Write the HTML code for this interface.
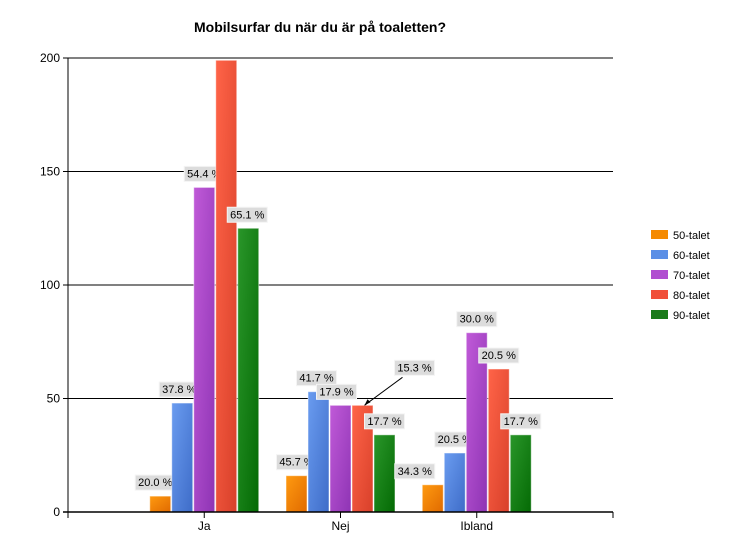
<!DOCTYPE html>
<html><head><meta charset="utf-8"><style>
body{margin:0;background:#fff;}
svg{display:block;font-family:"Liberation Sans",sans-serif;}
</style></head><body>
<svg id="chart" width="746" height="560">
<defs>
<linearGradient id="g0" x1="0" x2="1" y1="0" y2="1"><stop offset="0" stop-color="#ff9a10"/><stop offset="1" stop-color="#e06a00"/></linearGradient>
<linearGradient id="g1" x1="0" x2="1" y1="0" y2="1"><stop offset="0" stop-color="#6a9cf0"/><stop offset="1" stop-color="#3e6cc8"/></linearGradient>
<linearGradient id="g2" x1="0" x2="1" y1="0" y2="1"><stop offset="0" stop-color="#c05ad8"/><stop offset="1" stop-color="#8e34b4"/></linearGradient>
<linearGradient id="g3" x1="0" x2="1" y1="0" y2="1"><stop offset="0" stop-color="#ff6448"/><stop offset="1" stop-color="#d8402a"/></linearGradient>
<linearGradient id="g4" x1="0" x2="1" y1="0" y2="1"><stop offset="0" stop-color="#2a962a"/><stop offset="1" stop-color="#046a04"/></linearGradient>
</defs>
<text x="320" y="32" text-anchor="middle" font-size="14" font-weight="bold">Mobilsurfar du när du är på toaletten?</text>
<g id="grid"></g><g id="bars"></g><g id="axes"></g><g id="legend"></g>
</svg>
<script>
const categories = ["Ja","Nej","Ibland"];
const seriesNames = ["50-talet","60-talet","70-talet","80-talet","90-talet"];
const s50 = [7,16,12];
const s60 = [48,53,26];
const s70 = [143,47,79];
const s80 = [199,47,63];
const s90 = [125,34,34];
const pct50 = ["20.0 %","45.7 %","34.3 %"];
const pct60 = ["37.8 %","41.7 %","20.5 %"];
const pct70 = ["54.4 %","17.9 %","30.0 %"];
const pct80 = ["","15.3 %","20.5 %"];
const pct90 = ["65.1 %","17.7 %","17.7 %"];
const yTicks = [0,50,100,150,200];

const series=[s50,s60,s70,s80,s90], pcts=[pct50,pct60,pct70,pct80,pct90];
const colors=["url(#g0)","url(#g1)","url(#g2)","url(#g3)","url(#g4)"];
const swatch=["#f58a00","#5b8fe6","#b04fd0","#f0503a","#1a7a1a"];
const NS="http://www.w3.org/2000/svg";
const X0=68,X1=613,Y0=512,Y1=58,YMAX=200,NCAT=4;
const band=(X1-X0)/NCAT, bw=22;
const y=v=>Y0-(v/YMAX)*(Y0-Y1);
const cx=i=>X0+band*(i+1);
function mk(t,a,p){const e=document.createElementNS(NS,t);for(const k in a)e.setAttribute(k,a[k]);p.appendChild(e);return e;}
const grid=document.getElementById('grid'),bars=document.getElementById('bars'),axes=document.getElementById('axes'),leg=document.getElementById('legend');
yTicks.forEach(t=>{
  if(t>0){const l=mk('line',{x1:X0,x2:X1,y1:y(t),y2:y(t),stroke:'#000','stroke-width':1},grid);
  
  }
  const tk=mk('line',{x1:X0-5,x2:X0,y1:y(t),y2:y(t),stroke:'#000'},axes);
  
  
  const tx=mk('text',{x:X0-8,y:y(t)+4,'text-anchor':'end','font-size':12},axes);
  
  
  tx.textContent=t;
});
// label offsets (layout only)
const ldx=[[-5,-3,0,0,-1],[0,-2,-4,0,0],[-18,0,0,0,0]];
categories.forEach((c,ci)=>{
  const center=cx(ci)-band/2+band/2; const gc=X0+band*(ci)+band*1.0;
  series.forEach((s,si)=>{
    const bx=gc-2.5*bw+si*bw, top=y(s[ci]);
    const r=mk('rect',{x:bx+0.5,y:top,width:bw-1,height:Y0-top,fill:colors[si],stroke:'rgba(255,255,255,0.5)','stroke-width':1},bars);
    
    
    const txt=pcts[si][ci]; if(!txt) return;
    let lx=bx+bw/2+ldx[ci][si], ly=top-6;
    if(ci===1&&si===3){lx=bx+bw/2+52;ly=top-30;
      const a=mk('line',{x1:lx-12,y1:ly+2,x2:bx+bw/2+2,y2:top,stroke:'#000','stroke-width':1},bars);
      
      
      const h=mk('polygon',{points:`${bx+bw/2+2},${top} ${bx+bw/2+5},${top-6} ${bx+bw/2+8},${top-3}`,fill:'#000'},bars);
      
      }
    const w=40;
    const b=mk('rect',{x:lx-w/2,y:ly-15,width:w,height:15,fill:'#dcdcdc',stroke:'#f4f4f4'},bars);
    
    
    const t=mk('text',{x:lx,y:ly-4,'text-anchor':'middle','font-size':11},bars);
    
    
    t.textContent=txt;
  });
  const tk=mk('line',{x1:gc,x2:gc,y1:Y0,y2:Y0+6,stroke:'#000'},axes);
  
  
  const lb=mk('text',{x:gc,y:Y0+18,'text-anchor':'middle','font-size':12},axes);
  
  
  lb.textContent=c;
});
[X0,X1].forEach(xx=>{const t=mk('line',{x1:xx,x2:xx,y1:Y0,y2:Y0+6,stroke:'#000'},axes);
  
  });
const ya=mk('line',{x1:X0,x2:X0,y1:Y1,y2:Y0,stroke:'#000'},axes);


const xa=mk('line',{x1:X0-5,x2:X1,y1:Y0,y2:Y0,stroke:'#000','stroke-width':1.5},axes);


seriesNames.forEach((n,i)=>{
  const yy=235+i*20;
  const r=mk('rect',{x:651,y:yy-5,width:17,height:9,fill:swatch[i]},leg);
  
  
  const t=mk('text',{x:673,y:yy+4,'font-size':11},leg);
  
  
  t.textContent=n;
});
</script>
</body></html>
